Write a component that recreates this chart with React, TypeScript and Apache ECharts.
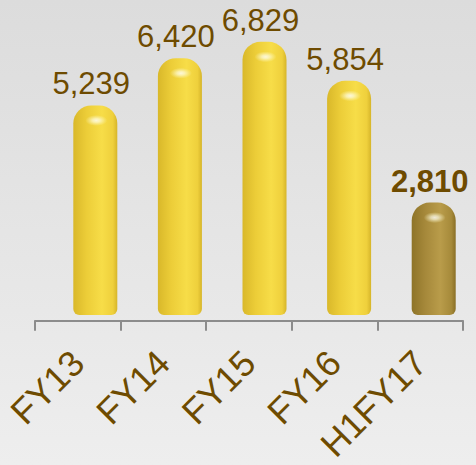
import React, { useEffect, useRef } from "react";
import * as echarts from "echarts";

const categories = ["FY13", "FY14", "FY15", "FY16", "H1FY17"];
const values = [5239, 6420, 6829, 5854, 2810];
const highlightIndex = 4;

const FONT = "'Liberation Sans', Arial, sans-serif";
const TEXT = "#6E4B00";

const goldBar = new echarts.graphic.LinearGradient(0, 0, 1, 0, [
  { offset: 0, color: "#D9B82A" },
  { offset: 0.3, color: "#ECCD38" },
  { offset: 0.65, color: "#F7DD48" },
  { offset: 0.9, color: "#EFD03C" },
  { offset: 1, color: "#D6B52A" },
]);

const bronzeBar = new echarts.graphic.LinearGradient(0, 0, 1, 0, [
  { offset: 0, color: "#8E7428" },
  { offset: 0.3, color: "#A5883A" },
  { offset: 0.65, color: "#B99C4A" },
  { offset: 0.9, color: "#A68A3A" },
  { offset: 1, color: "#8A6F26" },
]);

const glow = new echarts.graphic.RadialGradient(0.5, 0.5, 0.5, [
  { offset: 0, color: "rgba(255,255,255,1)" },
  { offset: 0.35, color: "rgba(255,255,235,0.8)" },
  { offset: 1, color: "rgba(255,250,200,0)" },
]);

export default function App() {
  const ref = useRef<HTMLDivElement>(null);

  useEffect(() => {
    document.body.style.margin = "0";
    if (!ref.current) return;
    const chart = echarts.init(ref.current, undefined, { renderer: "svg" });

    chart.setOption({
      animation: false,
      grid: [
        { left: 53, right: -5, top: 15, bottom: 150 },
        { left: 35, right: 13, top: 15, bottom: 141 },
      ],
      xAxis: [
        {
          type: "category",
          gridIndex: 0,
          data: categories,
          axisLine: { show: false },
          axisTick: { show: false },
          axisLabel: { show: false },
        },
        {
          type: "category",
          gridIndex: 1,
          data: categories,
          axisLine: { lineStyle: { color: "#8C8C8C", width: 2 } },
          axisTick: { show: true, length: 10, lineStyle: { color: "#8C8C8C", width: 2 } },
          axisLabel: {
            rotate: 45,
            margin: 36,
            fontSize: 36,
            fontFamily: FONT,
            color: TEXT,
          },
        },
      ],
      yAxis: [
        { type: "value", gridIndex: 0, min: 0, max: 7500, show: false },
        { type: "value", gridIndex: 1, min: 0, max: 7500, show: false },
      ],
      series: [
        {
          type: "bar",
          xAxisIndex: 0,
          yAxisIndex: 0,
          barWidth: 44,
          data: values.map((v, i) => ({
            value: v,
            itemStyle: {
              color: i === highlightIndex ? bronzeBar : goldBar,
              borderRadius: [18, 18, 6, 6],
            },
            label: {
              fontWeight: i === highlightIndex ? "bold" : "normal",
            },
          })),
          label: {
            show: true,
            position: "top",
            distance: 6,
            offset: [-4, 0],
            fontSize: 31,
            fontFamily: FONT,
            color: TEXT,
            formatter: (p: any) => p.value.toLocaleString("en-US"),
          },
        },
        {
          type: "scatter",
          xAxisIndex: 0,
          yAxisIndex: 0,
          data: values,
          symbol: "circle",
          symbolSize: [22, 11],
          symbolOffset: [1, 15],
          itemStyle: { color: glow },
          silent: true,
          z: 5,
        },
      ],
    });

    return () => chart.dispose();
  }, []);

  return (
    <div
      ref={ref}
      style={{
        width: 476,
        height: 465,
        background: "linear-gradient(#DCDCDC, #EEEEEE)",
      }}
    />
  );
}
